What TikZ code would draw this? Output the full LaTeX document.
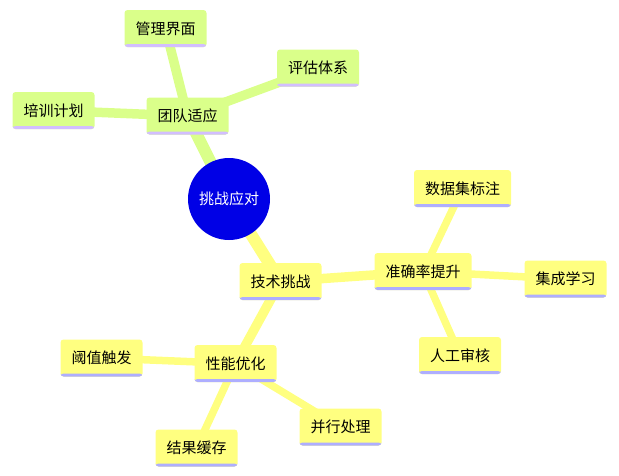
\documentclass[tikz,border=0pt]{standalone}
\usepackage{fontspec}
\setmainfont{Noto Sans CJK SC}
\usetikzlibrary{backgrounds}
\definecolor{mapblue}{HTML}{0000E6}
\definecolor{mapgreen}{HTML}{DAFF8A}
\definecolor{mapyellow}{HTML}{FFFF80}
\definecolor{maplilac}{HTML}{D2BEFF}
\definecolor{mapviolet}{HTML}{AEAEFF}

\tikzset{
    topic/.style n args={2}{fill=#1, rounded corners=3pt, minimum height=37pt, inner xsep=11pt,
        font=\fontsize{15}{17}\selectfont,
        path picture={\fill[#2] (path picture bounding box.south west) rectangle ([yshift=3pt]path picture bounding box.south east);}},
    greenbox/.style={topic={mapgreen}{maplilac}},
    yellowbox/.style={topic={mapyellow}{mapviolet}},
    trunk/.style={line width=12pt},
    limb/.style={line width=9.5pt},
    twig/.style={line width=7.5pt}
}

\begin{document}
\begin{tikzpicture}[x=1pt, y=-1pt]
    \useasboundingbox (0,0) rectangle (619,475);

    \node[circle, fill=mapblue, minimum size=82pt, text=white, font=\fontsize{15}{17}\selectfont] (root) at (229,199) {挑战应对};

    % team branch
    \node[greenbox] (team) at (187.5,116) {团队适应};
    \node[greenbox] (mgmt) at (165.5,28.5) {管理界面};
    \node[greenbox] (eval) at (318,68) {评估体系};
    \node[greenbox] (train) at (53.5,110.5) {培训计划};

    % tech branch
    \node[yellowbox] (tech) at (280.5,281.5) {技术挑战};
    \node[yellowbox] (acc) at (423,271.5) {准确率提升};
    \node[yellowbox] (data) at (462.5,188.5) {数据集标注};
    \node[yellowbox] (ens) at (565.5,279) {集成学习};
    \node[yellowbox] (review) at (460,355.5) {人工审核};
    \node[yellowbox] (perf) at (235.5,363.5) {性能优化};
    \node[yellowbox] (para) at (340.5,427) {并行处理};
    \node[yellowbox] (thresh) at (101.5,358) {阈值触发};
    \node[yellowbox] (cache) at (196.5,448) {结果缓存};

    \begin{scope}[on background layer]
        \draw[trunk, mapgreen] (root.center) -- (team.center);
        \draw[trunk, mapyellow] (root.center) -- (tech.center);
        \foreach \leaf in {mgmt, eval, train}
            \draw[limb, mapgreen] (team.center) -- (\leaf.center);
        \foreach \leaf in {acc, perf}
            \draw[limb, mapyellow] (tech.center) -- (\leaf.center);
        \foreach \leaf in {data, ens, review}
            \draw[twig, mapyellow] (acc.center) -- (\leaf.center);
        \foreach \leaf in {para, thresh, cache}
            \draw[twig, mapyellow] (perf.center) -- (\leaf.center);
    \end{scope}
\end{tikzpicture}
\end{document}
